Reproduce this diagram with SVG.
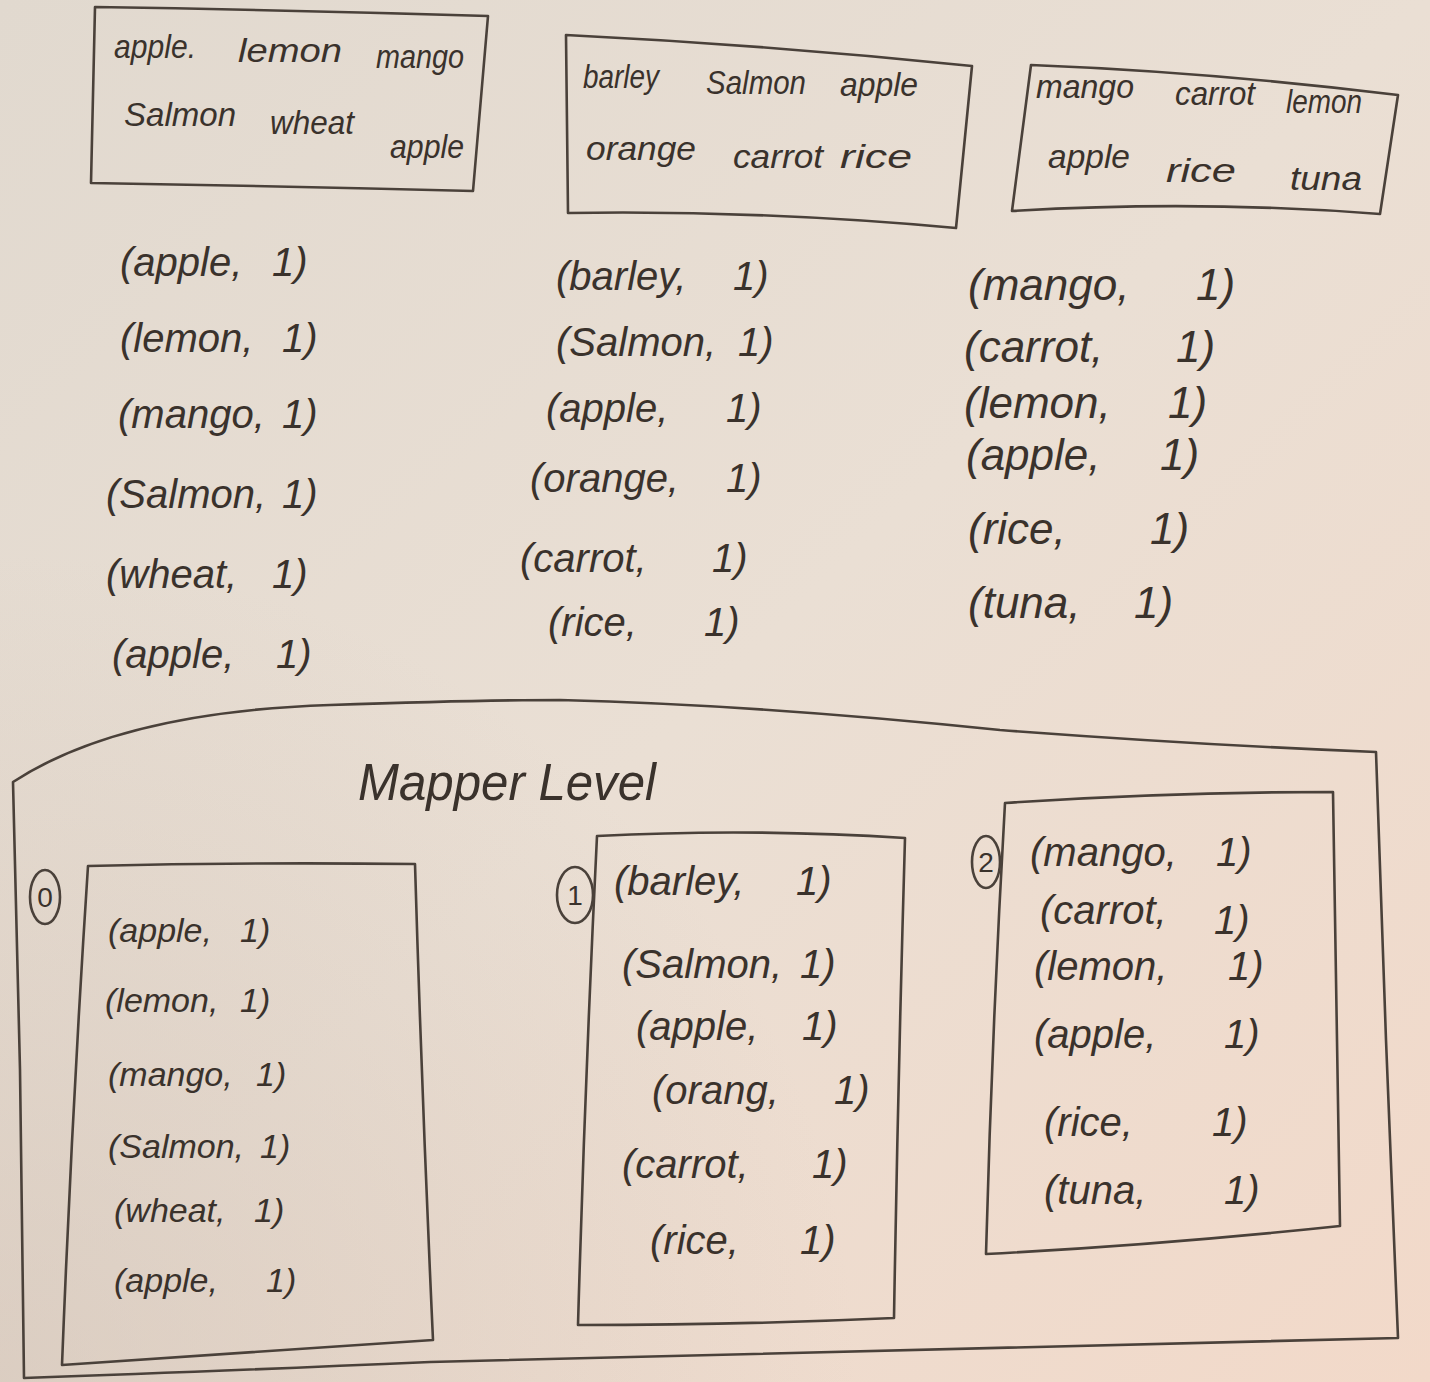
<svg xmlns="http://www.w3.org/2000/svg" width="1430" height="1382" viewBox="0 0 1430 1382">
<defs>
<linearGradient id="paper" x1="0" y1="0" x2="1" y2="1">
<stop offset="0" stop-color="#e1d9cf"/>
<stop offset="0.5" stop-color="#eadfd4"/>
<stop offset="1" stop-color="#f2d9c9"/>
</linearGradient>
<radialGradient id="shade" cx="0" cy="1" r="0.6">
<stop offset="0" stop-color="#c9b8ab" stop-opacity="0.45"/>
<stop offset="1" stop-color="#c9b8ab" stop-opacity="0"/>
</radialGradient>
<style>
.ln{fill:none;stroke:#4a413a;stroke-width:2.6;stroke-linejoin:round;stroke-linecap:round}
.w{font-family:"Liberation Sans","DejaVu Sans",sans-serif;font-style:italic;font-size:34px;fill:#3a322c}
.t{font-family:"Liberation Sans","DejaVu Sans",sans-serif;font-style:italic;font-size:40px;fill:#3a322c}
.s{font-size:34px}
.l{font-size:44px}
.h{font-family:"Liberation Sans","DejaVu Sans",sans-serif;font-style:italic;font-size:52px;fill:#3a322c}
.c{font-family:"Liberation Sans","DejaVu Sans",sans-serif;font-size:28px;fill:#3a322c;text-anchor:middle}
</style>
</defs>
<rect width="1430" height="1382" fill="url(#paper)"/>
<rect width="1430" height="1382" fill="url(#shade)"/>

<g id="split0">
<path class="ln" d="M95,7 Q290,10 488,16 L473,191 Q280,186 91,183 Z"/>
<text class="w" x="114" y="58" textLength="82" lengthAdjust="spacingAndGlyphs">apple.</text>
<text class="w" x="238" y="62" textLength="104" lengthAdjust="spacingAndGlyphs">lemon</text>
<text class="w" x="376" y="68" textLength="88" lengthAdjust="spacingAndGlyphs">mango</text>
<text class="w" x="124" y="126" textLength="112" lengthAdjust="spacingAndGlyphs">Salmon</text>
<text class="w" x="270" y="134" textLength="84" lengthAdjust="spacingAndGlyphs">wheat</text>
<text class="w" x="390" y="158" textLength="74" lengthAdjust="spacingAndGlyphs">apple</text>
</g>

<g id="split1">
<path class="ln" d="M566,35 Q770,45 972,66 L956,228 Q760,210 568,213 Z"/>
<text class="w" x="583" y="88" textLength="76" lengthAdjust="spacingAndGlyphs">barley</text>
<text class="w" x="706" y="94" textLength="100" lengthAdjust="spacingAndGlyphs">Salmon</text>
<text class="w" x="840" y="96" textLength="78" lengthAdjust="spacingAndGlyphs">apple</text>
<text class="w" x="586" y="160" textLength="110" lengthAdjust="spacingAndGlyphs">orange</text>
<text class="w" x="733" y="168" textLength="90" lengthAdjust="spacingAndGlyphs">carrot</text>
<text class="w" x="840" y="168" textLength="72" lengthAdjust="spacingAndGlyphs">rice</text>
</g>

<g id="split2">
<path class="ln" d="M1031,65 Q1210,72 1398,95 L1380,214 Q1200,200 1012,211 Z"/>
<text class="w" x="1036" y="98" textLength="98" lengthAdjust="spacingAndGlyphs">mango</text>
<text class="w" x="1175" y="105" textLength="80" lengthAdjust="spacingAndGlyphs">carrot</text>
<text class="w" x="1286" y="113" textLength="76" lengthAdjust="spacingAndGlyphs">lemon</text>
<text class="w" x="1048" y="168" textLength="82" lengthAdjust="spacingAndGlyphs">apple</text>
<text class="w" x="1166" y="182" textLength="70" lengthAdjust="spacingAndGlyphs">rice</text>
<text class="w" x="1290" y="190" textLength="72" lengthAdjust="spacingAndGlyphs">tuna</text>
</g>

<g id="pairs0">
<text class="t" x="120" y="276">(apple,<tspan x="272">1)</tspan></text>
<text class="t" x="120" y="352">(lemon,<tspan x="282">1)</tspan></text>
<text class="t" x="118" y="428">(mango,<tspan x="282">1)</tspan></text>
<text class="t" x="106" y="508">(Salmon,<tspan x="282">1)</tspan></text>
<text class="t" x="106" y="588">(wheat,<tspan x="272">1)</tspan></text>
<text class="t" x="112" y="668">(apple,<tspan x="276">1)</tspan></text>
</g>

<g id="pairs1">
<text class="t" x="556" y="290">(barley,<tspan x="733">1)</tspan></text>
<text class="t" x="556" y="356">(Salmon,<tspan x="738">1)</tspan></text>
<text class="t" x="546" y="422">(apple,<tspan x="726">1)</tspan></text>
<text class="t" x="530" y="492">(orange,<tspan x="726">1)</tspan></text>
<text class="t" x="520" y="572">(carrot,<tspan x="712">1)</tspan></text>
<text class="t" x="548" y="636">(rice,<tspan x="704">1)</tspan></text>
</g>

<g id="pairs2">
<text class="t l" x="968" y="300">(mango,<tspan x="1196">1)</tspan></text>
<text class="t l" x="964" y="362">(carrot,<tspan x="1176">1)</tspan></text>
<text class="t l" x="964" y="418">(lemon,<tspan x="1168">1)</tspan></text>
<text class="t l" x="966" y="470">(apple,<tspan x="1160">1)</tspan></text>
<text class="t l" x="968" y="544">(rice,<tspan x="1150">1)</tspan></text>
<text class="t l" x="968" y="618">(tuna,<tspan x="1134">1)</tspan></text>
</g>

<g id="mapper-level">
<path class="ln" d="M13,782 Q120,712 330,705 Q480,700 560,700 Q760,705 1000,730 Q1200,745 1376,752 L1386,1040 L1398,1338 Q900,1352 430,1362 Q200,1372 24,1378 L20,1070 Z"/>
<text class="h" x="358" y="800" textLength="298" lengthAdjust="spacingAndGlyphs">Mapper Level</text>
</g>

<g id="mapper0">
<ellipse class="ln" cx="45" cy="897" rx="15" ry="27"/>
<text class="c" x="45" y="907">0</text>
<path class="ln" d="M88,866 Q250,862 415,864 Q422,1100 433,1340 Q250,1352 62,1365 Q72,1110 88,866 Z"/>
<text class="t s" x="108" y="942">(apple,<tspan x="240">1)</tspan></text>
<text class="t s" x="105" y="1012">(lemon,<tspan x="240">1)</tspan></text>
<text class="t s" x="108" y="1086">(mango,<tspan x="256">1)</tspan></text>
<text class="t s" x="108" y="1158">(Salmon,<tspan x="260">1)</tspan></text>
<text class="t s" x="114" y="1222">(wheat,<tspan x="254">1)</tspan></text>
<text class="t s" x="114" y="1292">(apple,<tspan x="266">1)</tspan></text>
</g>

<g id="mapper1">
<ellipse class="ln" cx="575" cy="895" rx="18" ry="28"/>
<text class="c" x="575" y="905">1</text>
<path class="ln" d="M597,836 Q750,828 905,838 Q898,1080 894,1318 Q740,1325 578,1325 Q585,1080 597,836 Z"/>
<text class="t" x="614" y="895">(barley,<tspan x="796">1)</tspan></text>
<text class="t" x="622" y="978">(Salmon,<tspan x="800">1)</tspan></text>
<text class="t" x="636" y="1040">(apple,<tspan x="802">1)</tspan></text>
<text class="t" x="652" y="1104">(orang,<tspan x="834">1)</tspan></text>
<text class="t" x="622" y="1178">(carrot,<tspan x="812">1)</tspan></text>
<text class="t" x="650" y="1254">(rice,<tspan x="800">1)</tspan></text>
</g>

<g id="mapper2">
<ellipse class="ln" cx="986" cy="862" rx="14" ry="26"/>
<text class="c" x="986" y="872">2</text>
<path class="ln" d="M1005,803 Q1170,792 1333,792 Q1336,1010 1340,1226 Q1160,1245 986,1254 Q992,1030 1005,803 Z"/>
<text class="t" x="1030" y="866">(mango,<tspan x="1216">1)</tspan></text>
<text class="t" x="1040" y="924">(carrot,<tspan x="1214" y="934">1)</tspan></text>
<text class="t" x="1034" y="980">(lemon,<tspan x="1228">1)</tspan></text>
<text class="t" x="1034" y="1048">(apple,<tspan x="1224">1)</tspan></text>
<text class="t" x="1044" y="1136">(rice,<tspan x="1212">1)</tspan></text>
<text class="t" x="1044" y="1204">(tuna,<tspan x="1224">1)</tspan></text>
</g>

<g id="connectors"></g>
</svg>
